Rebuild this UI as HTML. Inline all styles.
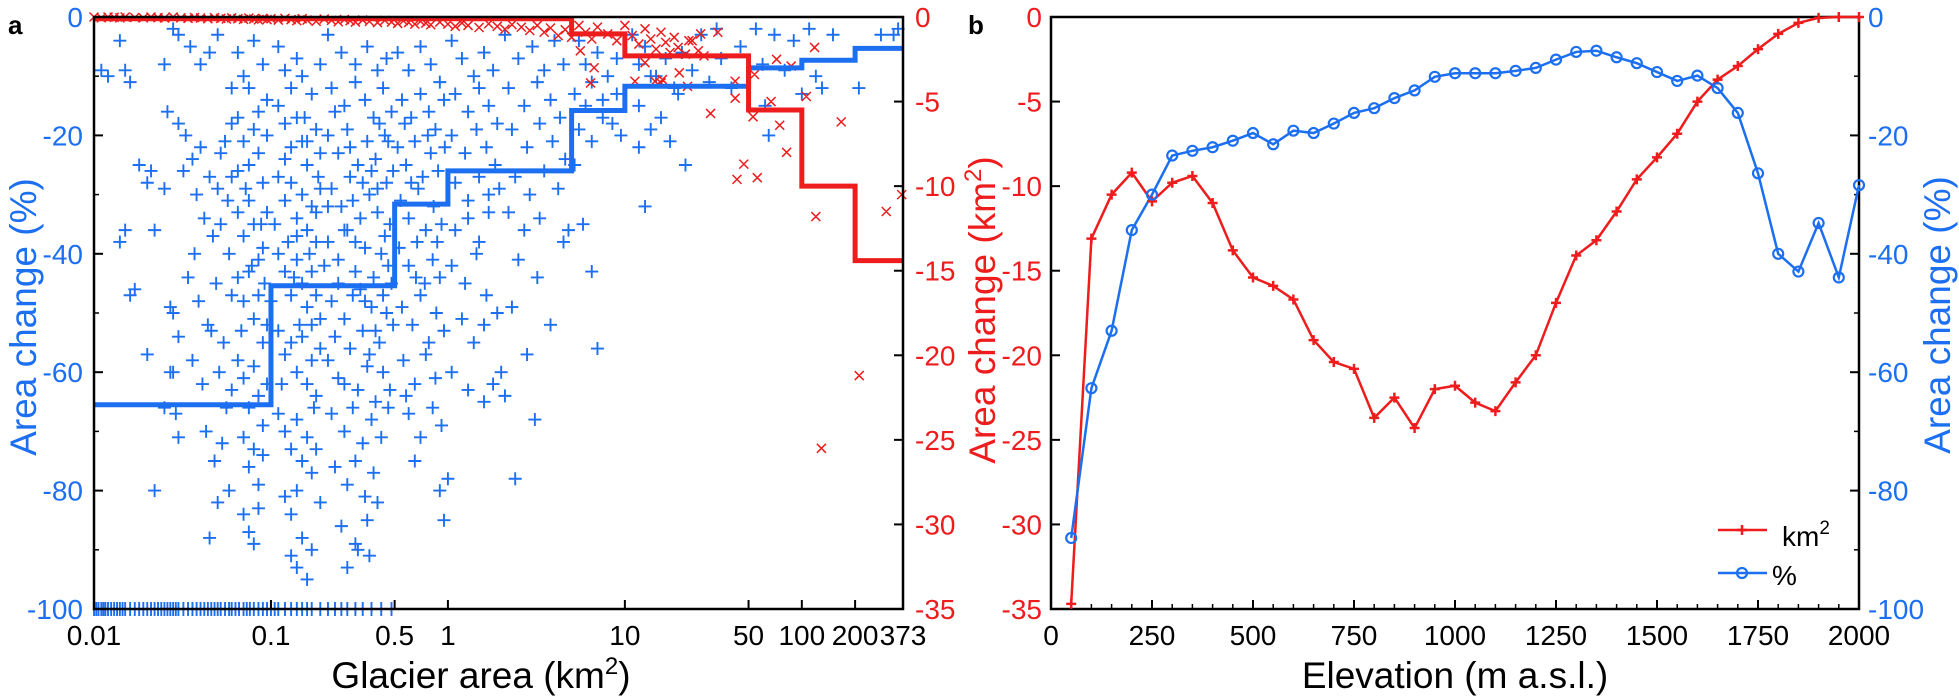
<!DOCTYPE html>
<html><head><meta charset="utf-8">
<style>
html,body{margin:0;padding:0;background:#fff;}
svg{display:block;font-family:"Liberation Sans",Arial,sans-serif;}
</style></head>
<body>
<svg id="chart" width="1959" height="700" viewBox="0 0 1959 700" xmlns="http://www.w3.org/2000/svg">
<text x="8" y="34" font-size="26" font-weight="bold">a</text>
<text x="968" y="34" font-size="26" font-weight="bold">b</text>
<g id="ga"></g>
<g id="gb"></g>
<text x="481" y="688" font-size="37" text-anchor="middle">Glacier area (km<tspan font-size="24" dy="-14">2</tspan><tspan dy="14">)</tspan></text>
<text transform="translate(36,317) rotate(-90)" font-size="37" fill="#1c6ff0" text-anchor="middle">Area change (%)</text>
<text transform="translate(995,310) rotate(-90)" font-size="37" fill="#ee1c1c" text-anchor="middle">Area change (km<tspan font-size="24" dy="-14">2</tspan><tspan dy="14">)</tspan></text>
<text x="1455" y="688" font-size="37" text-anchor="middle">Elevation (m a.s.l.)</text>
<text transform="translate(1950,315) rotate(-90)" font-size="37" fill="#1c6ff0" text-anchor="middle">Area change (%)</text>
</svg>
<script>
// ---------- Panel a data ----------
const bluePts = [[0.011,-9],[0.012,-10],[0.014,-4],[0.015,-9],[0.016,-11],[0.018,-25],[0.022,-80],[0.02,-57],[0.017,-46],[0.016,-47],[0.015,-36],[0.014,-38],[0.02,-28],[0.021,-26],[0.025,-29],[0.027,-60],[0.025,-66],[0.03,-71],[0.028,-2],[0.03,-3],[0.026,-16],[0.03,-18],[0.029,-67],[0.027,-49],[0.028,-50],[0.022,-36],[0.025,-8],[0.03,-54],[0.028,-60],
[0.035,-5],[0.04,-8],[0.045,-6],[0.05,-3],[0.033,-20],[0.036,-24],[0.04,-22],[0.045,-27],[0.05,-29],[0.055,-21],[0.038,-30],[0.042,-34],[0.047,-37],[0.052,-35],[0.058,-40],[0.034,-44],[0.039,-48],[0.044,-52],[0.049,-45],[0.054,-55],[0.036,-58],[0.041,-62],[0.046,-53],[0.051,-60],[0.056,-66],[0.043,-70],[0.048,-75],[0.053,-72],[0.058,-80],[0.045,-88],[0.05,-82],[0.06,-12],[0.06,-18],[0.06,-27],[0.06,-47],[0.06,-63],[0.032,-26],[0.037,-40],[0.052,-23],[0.057,-31],
[0.065,-6],[0.07,-10],[0.08,-4],[0.09,-8],[0.095,-14],[0.065,-17],[0.07,-21],[0.075,-25],[0.08,-19],[0.085,-23],[0.09,-28],[0.095,-20],[0.065,-33],[0.07,-37],[0.075,-31],[0.08,-35],[0.085,-41],[0.09,-39],[0.095,-33],[0.065,-44],[0.07,-48],[0.075,-43],[0.08,-51],[0.085,-47],[0.09,-55],[0.095,-52],[0.065,-58],[0.07,-61],[0.075,-66],[0.08,-59],[0.085,-64],[0.09,-69],[0.095,-62],[0.07,-71],[0.075,-76],[0.08,-73],[0.085,-79],[0.09,-74],[0.07,-84],[0.075,-87],[0.08,-89],[0.085,-83],[0.065,-26],[0.075,-12],[0.085,-16],[0.068,-53],[0.078,-42],[0.088,-35],[0.092,-45],[0.072,-29],
[0.11,-5],[0.12,-9],[0.13,-12],[0.14,-7],[0.15,-10],[0.17,-13],[0.19,-8],[0.11,-15],[0.12,-18],[0.13,-22],[0.14,-17],[0.15,-21],[0.16,-25],[0.18,-19],[0.19,-23],[0.11,-27],[0.12,-31],[0.13,-28],[0.14,-34],[0.15,-30],[0.16,-36],[0.17,-32],[0.18,-38],[0.19,-29],[0.11,-40],[0.12,-43],[0.13,-47],[0.14,-41],[0.15,-45],[0.16,-49],[0.17,-43],[0.18,-47],[0.19,-51],[0.11,-53],[0.12,-57],[0.13,-55],[0.14,-60],[0.15,-54],[0.16,-62],[0.17,-58],[0.18,-64],[0.19,-56],[0.11,-67],[0.12,-70],[0.13,-73],[0.14,-68],[0.15,-75],[0.16,-71],[0.17,-77],[0.18,-73],[0.12,-81],[0.13,-84],[0.14,-80],[0.15,-88],[0.13,-91],[0.16,-95],[0.14,-93],[0.17,-90],[0.19,-82],[0.105,-35],[0.115,-62],[0.125,-38],[0.145,-52],[0.165,-40],[0.185,-27],[0.175,-66],[0.155,-17],[0.135,-44],
[0.21,-3],[0.25,-6],[0.3,-8],[0.35,-5],[0.4,-9],[0.45,-7],[0.22,-12],[0.26,-15],[0.3,-11],[0.34,-14],[0.38,-17],[0.43,-12],[0.48,-16],[0.21,-20],[0.24,-23],[0.27,-19],[0.31,-25],[0.35,-21],[0.39,-24],[0.44,-20],[0.49,-26],[0.22,-29],[0.25,-32],[0.28,-27],[0.32,-34],[0.36,-30],[0.4,-33],[0.45,-28],[0.47,-35],[0.21,-38],[0.24,-41],[0.27,-36],[0.3,-43],[0.34,-39],[0.38,-44],[0.42,-40],[0.46,-42],[0.22,-48],[0.26,-51],[0.29,-47],[0.33,-53],[0.37,-49],[0.41,-55],[0.45,-50],[0.49,-52],[0.21,-58],[0.24,-61],[0.28,-56],[0.31,-63],[0.35,-59],[0.39,-65],[0.43,-60],[0.47,-63],[0.22,-67],[0.26,-70],[0.29,-66],[0.33,-72],[0.37,-68],[0.42,-71],[0.46,-66],[0.23,-76],[0.27,-79],[0.3,-75],[0.34,-81],[0.38,-77],[0.25,-86],[0.3,-89],[0.35,-85],[0.4,-82],[0.27,-93],[0.31,-90],[0.36,-91],[0.24,-45],[0.28,-22],[0.32,-46],[0.36,-57],[0.44,-37],[0.48,-45],[0.26,-62],[0.33,-28],
[0.23,-16],[0.29,-31],[0.37,-26],[0.41,-18],[0.2,-42],[0.18,-33],[0.16,-21],[0.23,-54],[0.3,-38],[0.39,-53],[0.43,-47],[0.26,-36],[0.12,-24],[0.14,-37],[0.17,-52],[0.21,-32],[0.34,-48],[0.4,-29],[0.46,-21],[0.1,-48],
[0.52,-6],[0.6,-9],[0.7,-5],[0.8,-8],[0.9,-11],[0.55,-14],[0.62,-17],[0.7,-13],[0.78,-16],[0.85,-19],[0.95,-14],[0.52,-22],[0.58,-25],[0.65,-21],[0.72,-27],[0.8,-23],[0.88,-26],[0.96,-22],[0.54,-31],[0.6,-34],[0.68,-29],[0.75,-36],[0.83,-32],[0.92,-35],[0.53,-39],[0.6,-42],[0.67,-38],[0.74,-45],[0.82,-41],[0.9,-44],[0.55,-49],[0.63,-52],[0.7,-47],[0.78,-55],[0.86,-50],[0.95,-53],[0.56,-58],[0.65,-62],[0.75,-57],[0.85,-61],[0.6,-67],[0.7,-71],[0.82,-66],[0.92,-69],[0.65,-75],[0.9,-80],[0.95,-85],[0.58,-64],
[0.62,-28],[0.77,-20],[0.66,-44],[0.87,-38],[0.57,-18],
[1.05,-4],[1.2,-7],[1.4,-10],[1.6,-6],[1.8,-9],[1.1,-13],[1.3,-16],[1.5,-12],[1.7,-15],[1.9,-18],[1.05,-20],[1.25,-23],[1.45,-19],[1.65,-22],[1.85,-25],[1.1,-28],[1.3,-31],[1.5,-27],[1.7,-30],[1.95,-29],[1.1,-36],[1.3,-34],[1.5,-38],[1.7,-33],[1.05,-42],[1.25,-45],[1.45,-40],[1.65,-47],[1.2,-51],[1.4,-55],[1.6,-52],[1.05,-60],[1.3,-63],[1.6,-65],[1.0,-78],[1.9,-50],[1.8,-62],
[2.1,-3],[2.5,-7],[3,-5],[3.5,-9],[4,-4],[4.5,-8],[2.2,-12],[2.7,-15],[3.2,-11],[3.8,-14],[4.3,-17],[2.3,-19],[2.8,-22],[3.3,-18],[3.9,-21],[4.6,-24],[2.4,-27],[2.9,-30],[3.5,-26],[4.2,-29],[2.2,-33],[2.7,-36],[3.3,-34],[2.5,-41],[3.2,-44],[2.3,-49],[2.8,-57],[2.1,-64],[2.4,-78],[3.1,-68],[3.8,-52],[4.5,-38],[4.8,-36],[2.0,-60],
[5.5,-4],[6,-8],[7,-6],[8,-10],[9,-7],[5.2,-13],[6,-15],[6.5,-11],[7.5,-14],[8.5,-18],[5.5,-19],[6.5,-21],[7.5,-17],[9.5,-20],[5.8,-35],[6.5,-43],[7,-56],[5.2,-25],[9,-13],
[11,-3],[12,-8],[13,-5],[15,-10],[17,-7],[19,-12],[21,-6],[24,-9],[27,-3],[30,-11],[33,-2],[12,-15],[14,-19],[16,-17],[18,-21],[20,-13],[22,-25],[12,-22],[13,-32],[35,-7],[40,-12],[45,-5],[14,-10],
[55,-2],[60,-8],[70,-3],[80,-9],[110,-2],[120,-10],[130,-12],[150,-3],[210,-12],[280,-3],[330,-3],[350,-2],[90,-4],[62,-15],[65,-20],[100,-13]];
const rugAreas = [0.01,0.0103,0.0106,0.011,0.0113,0.0116,0.012,0.0125,0.013,0.0135,0.014,0.0145,0.015,0.016,0.017,0.018,0.019,0.02,0.021,0.022,0.023,0.024,0.025,0.026,0.027,0.028,0.029,0.03,0.032,0.034,0.036,0.038,0.04,0.042,0.044,0.046,0.048,0.05,0.052,0.055,0.058,0.06,0.063,0.066,0.07,0.073,0.076,0.08,0.085,0.09,0.095,0.1,0.105,0.11,0.12,0.13,0.14,0.15,0.16,0.17,0.19,0.21,0.23,0.25,0.27,0.3,0.33,0.37,0.42,0.48];
const redPts = [[0.01,0],[0.011,-0.05],[0.012,0],[0.013,-0.02],[0.014,-0.05],[0.015,0],[0.017,-0.03],[0.019,-0.05],[0.021,0],[0.023,-0.04],[0.025,-0.06],[0.028,0],[0.031,-0.05],[0.034,-0.08],[0.037,-0.03],[0.04,-0.06],[0.044,-0.1],[0.048,-0.04],[0.052,-0.08],[0.056,-0.12],[0.06,-0.05],[0.065,-0.1],[0.07,-0.14],[0.075,-0.06],[0.08,-0.12],[0.085,-0.17],[0.09,-0.08],[0.095,-0.15],[0.1,-0.1],[0.11,-0.18],[0.12,-0.08],[0.13,-0.15],[0.14,-0.22],[0.15,-0.1],[0.16,-0.18],[0.18,-0.25],[0.2,-0.12],[0.22,-0.2],[0.24,-0.28],[0.26,-0.15],[0.28,-0.22],[0.3,-0.3],[0.33,-0.18],[0.36,-0.26],[0.4,-0.33],[0.44,-0.2],[0.48,-0.3],[0.52,-0.38],[0.56,-0.22],[0.6,-0.32],[0.65,-0.42],[0.7,-0.26],[0.75,-0.36],[0.8,-0.46],[0.9,-0.3],[1,-0.42],[1.1,-0.55],[1.2,-0.35],[1.3,-0.5],[1.5,-0.62],[1.7,-0.4],[1.9,-0.55],[2.1,-0.72],[2.3,-0.45],[2.6,-0.6],[2.9,-0.8],[3.2,-0.5],[3.5,-0.9],[3.8,-0.65],[4.2,-1.1],[4.6,-0.75],[5,-1.2],[5.5,-0.5],[6,-0.9],[6.5,-1.3],[7,-0.6],[8,-1.0],[9,-1.4],[10,-0.5],[11,-1.1],[12,-1.6],[13,-0.7],[14,-1.3],[15,-1.9],[16,-0.9],[17,-1.5],[18,-2.1],[19,-1.2],[20,-1.8],[22,-2.2],[24,-1.4],[26,-2.0],[28,-2.3],
[5.6,-2.0],[6.7,-3.0],[6.4,-3.9],[13,-2.7],[16,-3.9],[11.4,-3.8],[14.8,-3.8],[16.3,-3.7],[20.3,-3.3],[22.6,-4.1],[23,-1.4],[26.8,-1.0],[33.5,-0.9],[30.5,-5.7],[42,-4.8],[42,-3.8],[54,-3.4],[53,-5.9],[47,-8.7],[43,-9.6],[56,-9.5],[67,-5.0],[72,-2.5],[87,-2.9],[75,-6.4],[82,-8.0],[106,-4.7],[118,-1.8],[120,-11.8],[167,-6.2],[129,-25.5],[211,-21.2],[300,-11.5],[367,-10.5]];
const blueStepEdges = [0.01,0.1,0.5,1,5,10,50,100,200,373];
const blueStepVals = [-65.5,-45.4,-31.6,-26,-15.8,-11.7,-8.6,-7.3,-5.3];
const redStepEdges = [0.01,5,10,50,100,200,373];
const redStepVals = [-0.1,-1.0,-2.3,-5.5,-10,-14.4];
const aXTicks = [0.01,0.1,0.5,1,10,50,100,200,373];
const aXTickLabels = ["0.01","0.1","0.5","1","10","50","100","200","373"];
const pctTicks = [0,-20,-40,-60,-80,-100];
const pctMinor = [-10,-30,-50,-70,-90];
const kmTicks = [0,-5,-10,-15,-20,-25,-30,-35];
// ---------- Panel b data ----------
const elev = [50,100,150,200,250,300,350,400,450,500,550,600,650,700,750,800,850,900,950,1000,1050,1100,1150,1200,1250,1300,1350,1400,1450,1500,1550,1600,1650,1700,1750,1800,1850,1900,1950,2000];
const kmVals = [-34.7,-13.1,-10.5,-9.2,-10.9,-9.8,-9.4,-11.0,-13.8,-15.4,-15.9,-16.7,-19.1,-20.4,-20.8,-23.7,-22.5,-24.3,-22.0,-21.8,-22.8,-23.3,-21.6,-20.0,-16.9,-14.1,-13.2,-11.5,-9.6,-8.3,-6.9,-5.0,-3.7,-2.9,-1.9,-1.0,-0.35,-0.05,0,0];
const pctVals = [-88,-62.7,-53,-36,-30,-23.4,-22.6,-22,-20.9,-19.6,-21.5,-19.2,-19.6,-18,-16.2,-15.4,-13.7,-12.4,-10.1,-9.5,-9.5,-9.5,-9.1,-8.6,-7.2,-5.9,-5.7,-6.8,-7.8,-9.3,-10.8,-9.9,-12,-16.2,-26.4,-40,-43,-34.8,-44,-28.4];
const bXTicks = [0,250,500,750,1000,1250,1500,1750,2000];

const NS = "http://www.w3.org/2000/svg";
const BLUE = "#1c6ff0", RED = "#ee1c1c";
function mk(parent, tag, attrs, name, inter) {
  const el = document.createElementNS(NS, tag);
  for (const k in attrs) el.setAttribute(k, attrs[k]);
  
  
  parent.appendChild(el);
  return el;
}
const Y0 = 17, Y1 = 609, H = Y1 - Y0;
const ax0 = 94, ax1 = 903, bx0 = 1051, bx1 = 1859;
const xa = v => ax0 + (Math.log10(v) + 2) / (Math.log10(373) + 2) * (ax1 - ax0);
const yPct = v => Y0 + (-v) / 100 * H;
const yKm = v => Y0 + (-v) / 35 * H;
const xb = v => bx0 + v / 2000 * (bx1 - bx0);

const ga = document.getElementById('ga');
const gb = document.getElementById('gb');

const sa = mk(ga, 'g', {}, 'blue-scatter-percent', false);
let d = "";
bluePts.forEach(p => { const x = xa(p[0]), y = yPct(p[1]); d += `M${x-6.5} ${y}h13M${x} ${y-6.5}v13`; });
rugAreas.forEach(a => { const x = xa(a), y = yPct(-100); d += `M${x} ${y-7}v14`; });
mk(sa, 'path', {d: d, stroke: BLUE, 'stroke-width': 1.9, fill: 'none'}, 'blue-plus-markers', false);
mk(ga, 'line', {x1: xa(0.01), x2: xa(0.5), y1: yPct(-100), y2: yPct(-100), stroke: BLUE, 'stroke-width': 2}, 'blue-rug-baseline', false);
const sr = mk(ga, 'g', {}, 'red-scatter-km2', false);
d = "";
redPts.forEach(p => { const x = xa(p[0]), y = yKm(p[1]); d += `M${x-4.5} ${y-4.5}l9 9M${x-4.5} ${y+4.5}l9 -9`; });
mk(sr, 'path', {d: d, stroke: RED, 'stroke-width': 1.5, fill: 'none'}, 'red-x-markers', false);
function stepPath(edges, vals, yf) {
  let s = `M${xa(edges[0])} ${yf(vals[0])}`;
  for (let i = 0; i < vals.length; i++) {
    s += `L${xa(edges[i])} ${yf(vals[i])}L${xa(edges[i+1])} ${yf(vals[i])}`;
  }
  return s;
}
mk(ga, 'path', {d: stepPath(blueStepEdges, blueStepVals, yPct), stroke: BLUE, 'stroke-width': 5, fill: 'none'}, 'blue-step-median-percent', false);
mk(ga, 'path', {d: stepPath(redStepEdges, redStepVals, yKm), stroke: RED, 'stroke-width': 5, fill: 'none'}, 'red-step-median-km2', false);
mk(ga, 'rect', {x: ax0, y: Y0, width: ax1 - ax0, height: H, fill: 'none', stroke: '#000', 'stroke-width': 2.5}, 'plot-frame-a', false);
aXTicks.forEach((t, i) => {
  const x = xa(t);
  mk(ga, 'line', {x1: x, x2: x, y1: Y1, y2: Y1 - 9, stroke: '#000', 'stroke-width': 2}, 'x-tick-a', false);
  const tx = mk(ga, 'text', {x: x, y: 645, 'font-size': 28, 'text-anchor': 'middle'}, 'x-tick-label-a', false);
  tx.textContent = aXTickLabels[i];
});
pctTicks.forEach(t => {
  const y = yPct(t);
  mk(ga, 'line', {x1: ax0, x2: ax0 + 9, y1: y, y2: y, stroke: '#000', 'stroke-width': 2}, 'y-tick-a', false);
  const tx = mk(ga, 'text', {x: 83, y: y + 10, 'font-size': 28, 'text-anchor': 'end', fill: BLUE}, 'y-tick-label-a', false);
  tx.textContent = t;
});
pctMinor.forEach(t => { const y = yPct(t); mk(ga, 'line', {x1: ax0, x2: ax0 + 5, y1: y, y2: y, stroke: '#000', 'stroke-width': 1.5}, 'y-minor-tick-a', false); });
kmTicks.forEach(t => {
  const y = yKm(t);
  mk(ga, 'line', {x1: ax1, x2: ax1 - 9, y1: y, y2: y, stroke: '#000', 'stroke-width': 2}, 'y2-tick-a', false);
  const tx = mk(ga, 'text', {x: 915, y: y + 10, 'font-size': 28, fill: RED}, 'y2-tick-label-a', false);
  tx.textContent = t;
});

mk(gb, 'rect', {x: bx0, y: Y0, width: bx1 - bx0, height: H, fill: 'none', stroke: '#000', 'stroke-width': 2.5}, 'plot-frame-b', false);
bXTicks.forEach(t => {
  const x = xb(t);
  mk(gb, 'line', {x1: x, x2: x, y1: Y1, y2: Y1 - 9, stroke: '#000', 'stroke-width': 2}, 'x-tick-b', false);
  const tx = mk(gb, 'text', {x: x, y: 645, 'font-size': 28, 'text-anchor': 'middle'}, 'x-tick-label-b', false);
  tx.textContent = t;
});
elev.forEach(t => { const x = xb(t); mk(gb, 'line', {x1: x, x2: x, y1: Y1, y2: Y1 - 5, stroke: '#000', 'stroke-width': 1.5}, 'x-minor-tick-b', false); });
kmTicks.forEach(t => {
  const y = yKm(t);
  mk(gb, 'line', {x1: bx0, x2: bx0 + 9, y1: y, y2: y, stroke: '#000', 'stroke-width': 2}, 'y-tick-b', false);
  const tx = mk(gb, 'text', {x: 1042, y: y + 10, 'font-size': 28, 'text-anchor': 'end', fill: RED}, 'y-tick-label-b', false);
  tx.textContent = t;
});
pctTicks.forEach(t => {
  const y = yPct(t);
  mk(gb, 'line', {x1: bx1, x2: bx1 - 9, y1: y, y2: y, stroke: '#000', 'stroke-width': 2}, 'y2-tick-b', false);
  const tx = mk(gb, 'text', {x: 1868, y: y + 10, 'font-size': 28, fill: BLUE}, 'y2-tick-label-b', false);
  tx.textContent = t;
});
pctMinor.forEach(t => { const y = yPct(t); mk(gb, 'line', {x1: bx1, x2: bx1 - 5, y1: y, y2: y, stroke: '#000', 'stroke-width': 1.5}, 'y2-minor-tick-b', false); });
let pk = "", pp = "";
elev.forEach((e, i) => {
  pk += (i ? 'L' : 'M') + xb(e) + ' ' + yKm(kmVals[i]);
  pp += (i ? 'L' : 'M') + xb(e) + ' ' + yPct(pctVals[i]);
});
mk(gb, 'path', {d: pk, stroke: RED, 'stroke-width': 2.5, fill: 'none'}, 'km2-line', false);
mk(gb, 'path', {d: pp, stroke: BLUE, 'stroke-width': 2.5, fill: 'none'}, 'percent-line', false);
let mkd = "";
elev.forEach((e, i) => { const x = xb(e), y = yKm(kmVals[i]); mkd += `M${x-5} ${y}h10M${x} ${y-5}v10`; });
mk(gb, 'path', {d: mkd, stroke: RED, 'stroke-width': 2.5, fill: 'none'}, 'km2-markers', false);
elev.forEach((e, i) => {
  mk(gb, 'circle', {cx: xb(e), cy: yPct(pctVals[i]), r: 5, fill: 'none', stroke: BLUE, 'stroke-width': 2.2}, 'percent-marker', false);
});
const lg = mk(gb, 'g', {}, 'legend', false);
mk(lg, 'line', {x1: 1718, x2: 1767, y1: 530, y2: 530, stroke: RED, 'stroke-width': 2.5}, 'legend-km2-line', false);
mk(lg, 'path', {d: 'M1737 530h10M1742 525v10', stroke: RED, 'stroke-width': 2.5}, 'legend-km2-marker', false);
const t1 = mk(lg, 'text', {x: 1782, y: 546, 'font-size': 28}, 'legend-km2-label', false);
t1.innerHTML = 'km<tspan font-size="19" dy="-12">2</tspan>';
mk(lg, 'line', {x1: 1718, x2: 1767, y1: 573, y2: 573, stroke: BLUE, 'stroke-width': 2.5}, 'legend-percent-line', false);
mk(lg, 'circle', {cx: 1742, cy: 573, r: 5, fill: 'none', stroke: BLUE, 'stroke-width': 2.2}, 'legend-percent-marker', false);
const t2 = mk(lg, 'text', {x: 1772, y: 585, 'font-size': 28}, 'legend-percent-label', false);
t2.textContent = '%';
</script>
</body></html>
